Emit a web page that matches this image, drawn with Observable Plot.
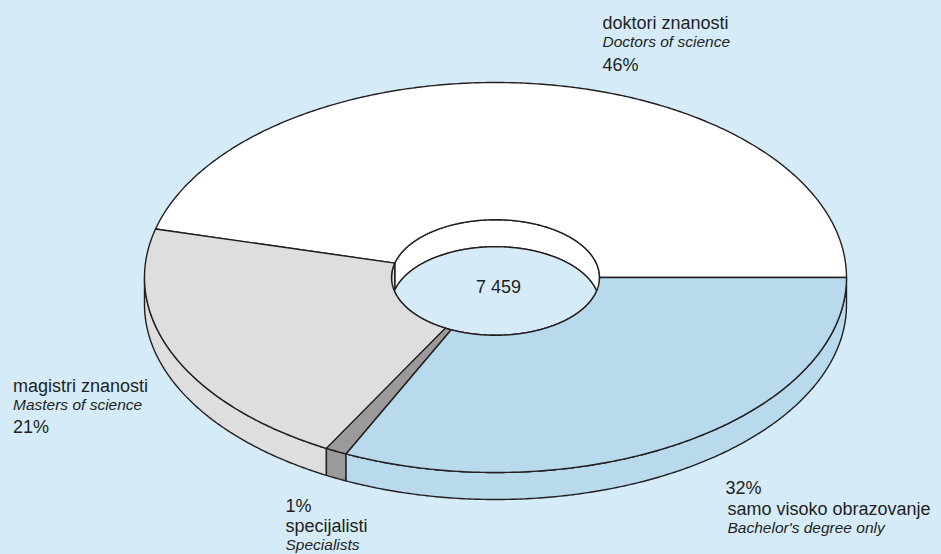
<!DOCTYPE html>
<html><head><meta charset="utf-8">
<script src="https://cdn.jsdelivr.net/npm/d3@7"></script>
<script src="https://cdn.jsdelivr.net/npm/@observablehq/plot@0.6"></script>
<style>
html,body{margin:0;padding:0;background:#d5ecf8;}
#chart svg{display:block;}
</style></head><body><div id="chart"></div>
<script>
// ---- data ----
const categories = ["doktori znanosti", "magistri znanosti", "specijalisti", "samo visoko obrazovanje"];
const categoriesEn = ["Doctors of science", "Masters of science", "Specialists", "Bachelor's degree only"];
const shares = [46, 21, 1, 32];
const totalLabel = "7 459";

// ---- style ----
const fills = ["#ffffff", "#dedede", "#9b9999", "#b9d9ec"];
const bg = "#d5ecf8";
const ink = "#231f20";
const W = 941, H = 554, cxPx = 495, cyPx = 277, unitPx = 351;
const tilt = 195 / 351, innerR = 104 / 351, depth = 27 / 351;

function pt(r, t, h) { return {x: r * Math.cos(t), y: r * tilt * Math.sin(t) - h * depth}; }
function arc(r, t0, t1, h) {
  const n = Math.max(2, Math.ceil(Math.abs(t1 - t0) / (Math.PI / 360)));
  const out = [];
  for (let i = 0; i <= n; i++) out.push(pt(r, t0 + (t1 - t0) * i / n, h));
  return out;
}

const total = d3.sum(shares);
let acc = 0;
const slices = shares.map((s, i) => {
  const a0 = acc / total * 2 * Math.PI; acc += s;
  const a1 = acc / total * 2 * Math.PI;
  return {i, a0, a1};
});

const outerWalls = [], innerWalls = [], tops = [];
function pushPoly(target, poly, face, fill) {
  poly.push(poly[0]);
  poly.forEach(p => target.push({...p, face, fill}));
}
slices.forEach(s => {
  const f = fills[s.i];
  const o0 = Math.max(s.a0, Math.PI), o1 = Math.min(s.a1, 2 * Math.PI);
  if (o1 > o0) pushPoly(outerWalls, [...arc(1, o0, o1, 0), ...arc(1, o1, o0, 1)], "o" + s.i, f);
  const w0 = Math.max(s.a0, 0), w1 = Math.min(s.a1, Math.PI);
  if (w1 > w0) pushPoly(innerWalls, [...arc(innerR, w0, w1, 0), ...arc(innerR, w1, w0, 1)], "w" + s.i, f);
  pushPoly(tops, [...arc(1, s.a0, s.a1, 0), ...arc(innerR, s.a1, s.a0, 0)], "t" + s.i, f);
});
const tc = Math.asin(depth / (2 * innerR * tilt));
const floor = [];
pushPoly(floor, [...arc(innerR, tc, Math.PI - tc, 1), ...arc(innerR, Math.PI + tc, 2 * Math.PI - tc, 0)], "floor", bg);

const faceStyle = {x: "x", y: "y", z: "face", fill: "fill", stroke: ink, strokeWidth: 1.4, strokeLinejoin: "round", curve: "linear"};

// label layout (pixel positions): [kind, x, baseline]
const labelLayout = [
  [["name", 602, 28], ["en", 602, 46], ["pct", 602, 70]],
  [["name", 12.5, 391], ["en", 12.5, 409], ["pct", 12.5, 432]],
  [["pct", 285, 511], ["name", 285, 531], ["en", 285, 549]],
  [["pct", 725, 493], ["name", 727, 514], ["en", 727, 532]]
];
const labelMarks = [];
labelLayout.forEach((lines, i) => {
  lines.forEach(([kind, x, y]) => {
    const txt = kind === "name" ? categories[i] : kind === "en" ? categoriesEn[i] : shares[i] + "%";
    labelMarks.push(Plot.text([txt], {
      text: d => d, frameAnchor: "top-left", dx: x, dy: y, textAnchor: "start", lineAnchor: "bottom",
      fontSize: kind === "en" ? 15.5 : 18, fontStyle: kind === "en" ? "italic" : "normal", fill: ink
    }));
  });
});

const chart = Plot.plot({
  width: W, height: H, margin: 0,
  style: {background: bg, fontFamily: "'Liberation Sans', Arial, sans-serif"},
  x: {domain: [-cxPx / unitPx, (W - cxPx) / unitPx], axis: null},
  y: {domain: [-(H - cyPx) / unitPx, cyPx / unitPx], axis: null},
  color: {type: "identity"},
  marks: [
    Plot.line(outerWalls, faceStyle),
    Plot.line(innerWalls, faceStyle),
    Plot.line(floor, faceStyle),
    Plot.line(tops, faceStyle),
    Plot.text([totalLabel], {text: d => d, x: () => 0, y: () => -depth / 2, dx: 3, dy: -4, fontSize: 18, fill: ink, textAnchor: "middle"}),
    ...labelMarks
  ]
});
document.getElementById("chart").appendChild(chart);
</script>
</body></html>
